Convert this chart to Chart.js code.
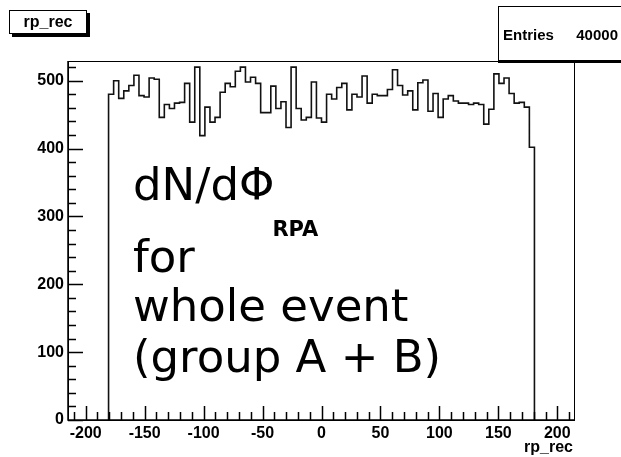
<!DOCTYPE html>
<html>
<head>
<meta charset="utf-8">
<script src="https://cdn.jsdelivr.net/npm/chart.js@4.4.1/dist/chart.umd.min.js"></script>
<style>
  html, body { margin: 0; padding: 0; background: #fff; }
  #wrap { position: relative; width: 621px; height: 457px; overflow: hidden; }
  #c { position: absolute; left: 0; top: 0; }
  .box { position: absolute; background: #fff; border: 1px solid #000; box-sizing: border-box;
         font-family: "Liberation Sans", Arial, sans-serif; font-weight: bold; color: #000; }
  #title { left: 9px; top: 10px; width: 78px; height: 24px; box-shadow: 3px 3px 0 #000;
           font-size: 16px; line-height: 21px; text-align: center; }
  #stats { left: 498px; top: 6px; width: 125px; height: 55px; box-shadow: 0 2px 0 #000; font-size: 15px; }
  #stats .k { position: absolute; left: 4px; top: 19px; }
  #stats .v { position: absolute; right: 4px; top: 19px; }
  #xtitle { position: absolute; right: 48px; top: 438px; font: bold 16px "Liberation Sans", Arial, sans-serif; }
  .big { position: absolute; left: 133px; font-family: "DejaVu Sans", sans-serif; font-size: 45px;
         line-height: 45px; white-space: nowrap; color: #000; }
  .big sub { font-size: 21px; font-weight: bold; position: relative; top: 36px; vertical-align: baseline; margin-left: -2px; }
</style>
</head>
<body>
<div id="wrap">
  <canvas id="c" width="621" height="457"></canvas>
  <div id="title" class="box">rp_rec</div>
  <div id="stats" class="box"><span class="k">Entries</span><span class="v" id="entries"></span></div>
  <div id="xtitle">rp_rec</div>
  <div class="big" style="top:162px">dN/dΦ<sub>RPA</sub></div>
  <div class="big" style="top:234px">for</div>
  <div class="big" style="top:283px">whole event</div>
  <div class="big" style="top:334px">(group A + B)</div>
</div>
<script>
// rp_rec histogram: bins of 4.3 deg, only the ones inside [-180, 180] are filled
const binLow = -180.6;
const binWidth = 4.3;
const counts = [
  480, 500, 474, 485, 493, 508, 478, 476, 504, 502,
  446, 465, 459, 467, 468, 496, 439, 520, 419, 461,
  439, 446, 483, 496, 491, 514, 520, 498, 505, 496,
  453, 453, 492, 459, 469, 431, 520, 459, 442, 446,
  498, 445, 439, 480, 473, 490, 496, 457, 480, 476,
  507, 467, 480, 478, 478, 487, 516, 493, 479, 485,
  457, 497, 501, 455, 481, 446, 473, 478, 470, 467,
  467, 465, 467, 465, 436, 458, 510, 496, 504, 481,
  467, 468, 461, 402
];
const entries = 40000;
const xTicks = [-200, -150, -100, -50, 0, 50, 100, 150, 200];
const yTicks = [0, 100, 200, 300, 400, 500];

document.getElementById('entries').textContent = entries;

// step outline: vertical up at the first edge, down at the last one
const outline = [{ x: binLow, y: 0 }];
counts.forEach((c, i) => outline.push({ x: binLow + i * binWidth, y: c }));
outline.push({ x: binLow + counts.length * binWidth, y: 0 });

// frame plus inward ticks, ROOT style
const frameTicks = {
  id: 'frameTicks',
  afterDraw(chart) {
    const { ctx, chartArea: a, scales: { x, y } } = chart;
    ctx.save();
    ctx.strokeStyle = '#000';
    ctx.lineWidth = 1;
    ctx.strokeRect(a.left + 0.5, a.top + 0.5, a.right - a.left - 1, a.bottom - a.top);
    ctx.lineWidth = 1.5;
    ctx.beginPath();
    ctx.moveTo(a.left, a.top); ctx.lineTo(a.left, a.bottom); ctx.lineTo(a.right, a.bottom);
    for (let v = -210; v <= 210; v += 10) {
      const px = Math.round(x.getPixelForValue(v)) + 0.5;
      const len = v % 50 === 0 ? 14 : 8;
      ctx.moveTo(px, a.bottom); ctx.lineTo(px, a.bottom - len);
    }
    for (let v = 0; v <= 520; v += 20) {
      const py = Math.round(y.getPixelForValue(v)) + 0.5;
      const len = v % 100 === 0 ? 15 : 8;
      ctx.moveTo(a.left, py); ctx.lineTo(a.left + len, py);
    }
    ctx.stroke();
    ctx.restore();
  }
};

const tickFont = { family: 'Liberation Sans', weight: 'bold', size: 16 };

new Chart(document.getElementById('c'), {
  type: 'line',
  data: {
    datasets: [{
      data: outline,
      stepped: 'before',
      borderColor: '#111',
      borderWidth: 1.6,
      pointRadius: 0,
      fill: false
    }]
  },
  options: {
    responsive: false,
    animation: false,
    layout: { padding: { left: 0, right: 46, top: 61, bottom: 0 } },
    plugins: { legend: { display: false }, tooltip: { enabled: false } },
    scales: {
      x: {
        type: 'linear', min: -215, max: 215,
        grid: { display: false, drawTicks: false },
        border: { display: false },
        afterBuildTicks: s => { s.ticks = xTicks.map(v => ({ value: v })); },
        afterFit: s => { s.height = 37; },
        ticks: { font: tickFont, color: '#000', padding: 4, maxRotation: 0, autoSkip: false }
      },
      y: {
        min: 0, max: 529,
        grid: { display: false, drawTicks: false },
        border: { display: false },
        afterBuildTicks: s => { s.ticks = yTicks.map(v => ({ value: v })); },
        afterFit: s => { s.width = 68; },
        ticks: { font: tickFont, color: '#000', padding: 4 }
      }
    }
  },
  plugins: [frameTicks]
});
</script>
</body>
</html>
